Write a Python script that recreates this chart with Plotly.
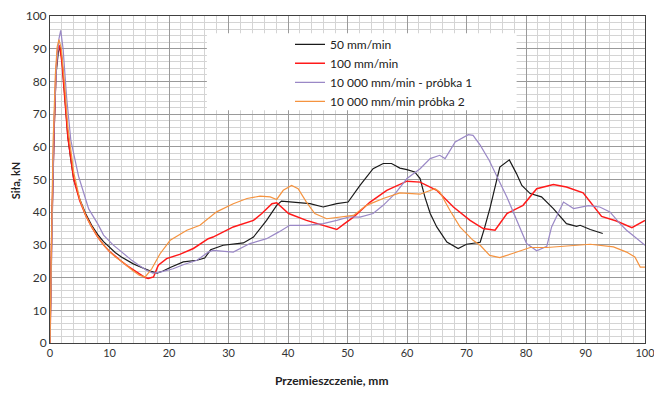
import plotly.graph_objects as go

# ---- data ----
x_50 = [0, 0.3, 0.7, 1.0, 1.4, 1.7, 2.0, 2.5, 3.0, 3.5, 4.0, 5, 6, 7, 8, 9, 10, 11, 12, 13, 14, 15, 16, 17, 18, 19,
        20.2, 22.4, 24.7, 26, 27, 29.1, 32.5, 34.2, 36.4, 38.1, 38.9, 40.9, 43.7, 45.9, 48.2, 50.1, 52.1, 54.3, 56,
        57.4, 58.8, 60, 61.3, 62.2, 63, 63.9, 65, 66.7, 68.6, 70, 72.3, 73, 74, 75.6, 77.2, 78.4, 79.3, 80.7, 82.6,
        84.6, 86.8, 88.5, 89.1, 90.8, 92.9]
y_50 = [0, 35, 65, 82, 89, 90.5, 87, 75, 63, 56, 50, 44, 39.5, 36, 33.2, 31, 29.2, 27.6, 26.3, 25.2, 24.2, 23.4, 22.6,
        21.9, 21.4, 22, 23.1, 24.8, 25.3, 26, 28.5, 29.9, 30.6, 32.4, 37.5, 42.1, 43.4, 43.1, 42.6, 41.6, 42.6, 43.1,
        48.2, 53.3, 54.9, 54.9, 53.5, 53, 52.3, 50.3, 44.7, 39.6, 35.5, 30.9, 28.9, 30.2, 30.8, 35, 41.6, 53.8, 56,
        51.8, 48.2, 45.7, 44.7, 41.1, 36.5, 35.7, 36, 34.7, 33.5]

x_100 = [0, 0.3, 0.7, 1.0, 1.3, 1.6, 2.0, 2.5, 3, 4, 5, 6, 7, 8, 9, 10, 11, 12, 13, 14, 15, 16, 16.5, 17.4, 18.2,
         19.6, 21.8, 24.1, 26.6, 27.4, 30.8, 34.2, 35.6, 37.3, 38.1, 40.1, 43.1, 45.9, 48.2, 49.5, 51, 53.8, 56.6,
         60, 62.2, 65, 67.8, 70.6, 72.8, 74.8, 76.8, 79.5, 81.8, 84.6, 86.8, 89.6, 91.9, 92.7, 95.2, 97.8, 100]
y_100 = [0, 35, 66, 83, 90, 91, 86, 74, 63, 50, 43.5, 39, 35.5, 32.5, 30, 28, 26.4, 25, 23.6, 22.4, 21.2, 20, 19.7,
         20.2, 23.8, 25.8, 27.1, 28.9, 31.9, 32.4, 35.5, 37.5, 39.6, 42.6, 42.9, 39.6, 37.5, 36, 34.7, 36.5, 38.5,
         43.1, 46.7, 49.5, 49.2, 46.7, 41.6, 37.5, 35, 34.5, 39.6, 42.1, 47.2, 48.5, 47.7, 45.9, 40.6, 38.7, 37.3,
         35.3, 37.5]

x_p1 = [0, 0.3, 0.7, 1.1, 1.5, 1.8, 2.2, 2.8, 3.5, 4.8, 6.5, 8, 9, 10.6, 12, 13.8, 15, 16.3, 17.3, 18.5, 20.7, 22.5,
        24.7, 26.6, 27.4, 30.8, 33.6, 36.4, 38.4, 40.3, 43.1, 45.9, 48.2, 50.4, 52.1, 54.3, 56, 58, 60, 62.2, 63.9,
        65.5, 66.4, 68.1, 70.3, 71.1, 72.3, 73.8, 76.8, 80.1, 81.8, 83.5, 84.3, 86.3, 88, 90.5, 92.4, 94.1, 95.8,
        96.9, 98, 100]
y_p1 = [0, 35, 68, 85, 93, 95.6, 90, 75, 62, 51, 41, 36.5, 33, 30, 27.8, 25.2, 23.7, 22.2, 21.4, 21.7, 22.7, 24,
        25.3, 27.8, 28.3, 27.8, 30.4, 31.9, 33.9, 36, 36, 36.5, 37.5, 38.6, 38.5, 39.6, 42.1, 45.7, 50.3, 53.3, 56.4,
        57.4, 56.4, 61.5, 63.7, 63.5, 60.5, 55.9, 44.6, 30.4, 28.2, 29.6, 35.5, 43.1, 41.1, 42, 41.6, 40.1, 36.5,
        34.5, 32.9, 29.9]

x_p2 = [0, 0.2, 0.5, 0.9, 1.2, 1.5, 1.9, 2.5, 3, 4, 5, 6, 7, 8, 9, 10, 11, 12, 13, 14, 15, 16, 17.1, 18.5, 20.2, 23,
        25.2, 28, 30.8, 33.1, 35.3, 37, 38.1, 39.2, 40.6, 41.7, 43.1, 44.5, 46.5, 48.7, 51, 53.2, 56, 58.8, 60.8,
        62.2, 64.7, 65.5, 67.2, 68.9, 71.1, 72.3, 73.9, 75.6, 77.6, 80.7, 83.5, 86.8, 90.8, 94.7, 96.9, 98.3, 99.2,
        100]
y_p2 = [0, 30, 60, 82, 90.5, 92.8, 90, 78, 66, 52, 44, 39, 35.5, 32.5, 30, 28, 26.3, 25, 23.4, 22, 20.7, 20.2, 22.7,
        27.3, 31.4, 34.5, 36, 40.1, 42.6, 44.2, 44.9, 44.7, 43.9, 46.7, 48.2, 47.2, 43.1, 39.6, 38, 38.4, 39, 42.1,
        44.2, 45.9, 45.7, 45.5, 47.2, 46.2, 40.6, 35.5, 31.4, 29.9, 26.8, 26.1, 27.3, 29.2, 29.2, 29.6, 30.2, 29.4,
        27.8, 26.3, 23.2, 23.2]

names = ["50 mm/min", "100 mm/min", "10 000 mm/min - próbka 1", "10 000 mm/min próbka 2"]
x_ticks = [0, 10, 20, 30, 40, 50, 60, 70, 80, 90, 100]
y_ticks = [0, 10, 20, 30, 40, 50, 60, 70, 80, 90, 100]

FONT = "Lato, sans-serif"

fig = go.Figure()
series = [(x_50, y_50, names[0], "#1a1a1a", 1.2),
          (x_100, y_100, names[1], "#ff1a1a", 1.5),
          (x_p1, y_p1, names[2], "#9a88c6", 1.2),
          (x_p2, y_p2, names[3], "#f5933f", 1.2)]
for xs, ys, nm, col, w in series:
    fig.add_trace(go.Scatter(x=xs, y=ys, name=nm, mode="lines",
                             line=dict(color=col, width=w)))

# white legend panel
fig.add_shape(type="rect", xref="paper", yref="paper",
              x0=(207 - 50) / 595.5, x1=(517 - 50) / 595.5,
              y0=(342.7 - 110) / 327, y1=(342.7 - 33) / 327,
              fillcolor="white", line=dict(width=0), layer="above")

axis_common = dict(showline=True, linecolor="#404040", linewidth=1, mirror=True,
                   gridcolor="#9a9a9a", gridwidth=1, zeroline=False,
                   ticks="", ticklabeloverflow="allow", automargin=False)
fig.update_xaxes(range=[0, 100], tickvals=x_ticks, ticktext=[str(v) for v in x_ticks],
                 tickfont=dict(family=FONT, size=11, color="#333333"),
                 minor=dict(dtick=2, showgrid=True, gridcolor="#d4d4d4", gridwidth=1),
                 **axis_common)
fig.update_yaxes(range=[0, 100], tickvals=y_ticks, ticktext=[str(v) for v in y_ticks],
                 tickfont=dict(family=FONT, size=12, color="#333333"),
                 minor=dict(dtick=2, showgrid=True, gridcolor="#d4d4d4", gridwidth=1),
                 **axis_common)

fig.update_layout(
    width=654, height=394,
    margin=dict(l=50, r=9, t=16, b=51),
    plot_bgcolor="white", paper_bgcolor="white",
    showlegend=True,
    legend=dict(x=(290 - 50) / 595, y=(342.7 - 29.5) / 327, xanchor="left", yanchor="top",
                bgcolor="rgba(0,0,0,0)", borderwidth=0,
                font=dict(family=FONT, size=12, color="#222222"),
                tracegroupgap=0),
    annotations=[
        dict(text="<b>Przemieszczenie, mm</b>", xref="paper", yref="paper",
             x=(331 - 50) / 595, y=-(380 - 342.7) / 327, xanchor="center", yanchor="middle",
             showarrow=False, font=dict(family=FONT, size=12, color="#222222")),
        dict(text="<b>Siła, kN</b>", xref="paper", yref="paper",
             x=-(50 - 15) / 595, y=(342.7 - 180) / 327, xanchor="center", yanchor="middle",
             textangle=-90, showarrow=False, font=dict(family=FONT, size=11, color="#222222")),
    ],
)

fig.write_html("out.html")
